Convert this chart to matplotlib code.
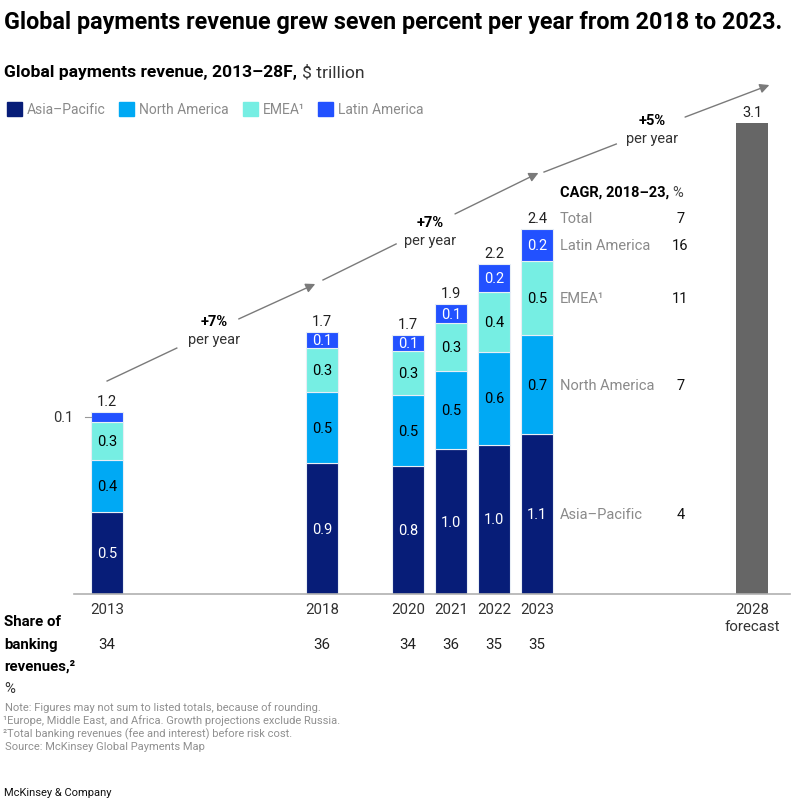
import matplotlib
matplotlib.use('Agg')
import matplotlib.pyplot as plt
from matplotlib.transforms import blended_transform_factory

plt.rcParams['font.family'] = ['Roboto', 'DejaVu Sans']

# data, $ trillion (segment heights, labels as printed)
years = [2013, 2018, 2020, 2021, 2022, 2023]
asia = [0.53, 0.85, 0.83, 0.94, 0.97, 1.04]
north_america = [0.34, 0.46, 0.46, 0.51, 0.60, 0.64]
emea = [0.25, 0.29, 0.29, 0.31, 0.39, 0.48]
latam = [0.06, 0.10, 0.10, 0.12, 0.18, 0.21]
asia_lbl = ['0.5', '0.9', '0.8', '1.0', '1.0', '1.1']
na_lbl = ['0.4', '0.5', '0.5', '0.5', '0.6', '0.7']
emea_lbl = ['0.3', '0.3', '0.3', '0.3', '0.4', '0.5']
latam_lbl = ['0.1', '0.1', '0.1', '0.1', '0.2', '0.2']
total_lbl = ['1.2', '1.7', '1.7', '1.9', '2.2', '2.4']
forecast_year = 2028
forecast_total = 3.06
forecast_lbl = '3.1'
share_banking = [34, 36, 34, 36, 35, 35]
cagr_names = ['Total', 'Latin America', 'EMEA\u00b9', 'North America', 'Asia\u2013Pacific']
cagr_values = [7, 16, 11, 7, 4]
growth_lbl = ['+7%', '+7%', '+5%']

C_ASIA = '#071d78'
C_NA = '#00a9f4'
C_EMEA = '#76eee3'
C_LATAM = '#2251ff'
C_FC = '#666666'
GREY = '#8a8a8a'

W, H = 810, 804
fig = plt.figure(figsize=(W / 100, H / 100), dpi=100)
renderer = fig.canvas.get_renderer()


def fx(px):
    return px / W


def fy(py):
    return 1 - py / H


def text_after(t, gap_px, s, **kw):
    # put a second text right after an existing one (mixed bold / normal)
    bb = t.get_window_extent(renderer)
    return fig.text((bb.x1 + gap_px) / W, (bb.y0 + bb.y1) / 2 / H, s, **kw)


# axes placed so that baseline sits at y=595px, 154 px per $ trillion
ax = fig.add_axes([fx(74), fy(595), fx(790) - fx(74), fy(60) - fy(595)])
ax.set_xlim(2012.23, 2028.88)
ax.set_ylim(0, (595 - 60) / 154)
for s in ['top', 'right', 'left']:
    ax.spines[s].set_visible(False)
ax.spines['bottom'].set_color('#b0b0b0')
ax.spines['bottom'].set_linewidth(1.2)
ax.set_yticks([])

bw = 0.75
series = [(asia, C_ASIA, asia_lbl, 'white'),
          (north_america, C_NA, na_lbl, 'black'),
          (emea, C_EMEA, emea_lbl, 'black'),
          (latam, C_LATAM, latam_lbl, 'white')]
bottoms = [0.0] * len(years)
for vals, col, lbls, tcol in series:
    ax.bar(years, vals, bw, bottom=bottoms, color=col, edgecolor='#e8eef5', linewidth=0.8)
    for i, (x, v) in enumerate(zip(years, vals)):
        if v > 0.09:
            ax.text(x, bottoms[i] + v / 2, lbls[i], ha='center', va='center',
                    color=tcol, fontsize=10.5)
    bottoms = [b + v for b, v in zip(bottoms, vals)]

# small latam slice of 2013 labelled outside
y13 = bottoms[0] - latam[0] / 2
ax.plot([years[0] - 0.51, years[0] - bw / 2], [y13, y13], color='#999999', lw=0.8, clip_on=False)
ax.text(years[0] - 0.78, y13, latam_lbl[0], ha='right', va='center', fontsize=10.5,
        color='#333333', clip_on=False)

for x, t, l in zip(years, bottoms, total_lbl):
    ax.annotate(l, (x, t), xytext=(0, 3), textcoords='offset points',
                ha='center', va='bottom', fontsize=10.5, color='#222222')

ax.bar([forecast_year], [forecast_total], bw, color=C_FC)
ax.annotate(forecast_lbl, (forecast_year, forecast_total), xytext=(0, 3),
            textcoords='offset points', ha='center', va='bottom', fontsize=10.5, color='#222222')

ax.set_xticks(years + [forecast_year])
ax.set_xticklabels([str(y) for y in years] + ['2028\nforecast'], fontsize=10.8,
                   color='#333333', linespacing=1.25)
ax.tick_params(axis='x', length=0, pad=6)

# growth arrows (layout positions in data units)
arrow_kw = dict(arrowstyle='-|>', color='#7a7a7a', lw=1.0, mutation_scale=14, shrinkA=0, shrinkB=0)
line_kw = dict(color='#7a7a7a', lw=1.0, clip_on=False)
segs = [((2013.0, 1.383), (2014.62, 1.597), (2016.06, 1.786), (2017.84, 2.013), (2015.49, 1.773, 1.656)),
        ((2018.02, 2.039), (2019.72, 2.273), (2021.09, 2.468), (2023.03, 2.734), (2020.51, 2.416, 2.299)),
        ((2023.16, 2.740), (2024.84, 2.922), (2026.44, 3.097), (2028.40, 3.305), (2025.67, 3.078, 2.961))]
for (p0, p1, p2, p3, tp), g in zip(segs, growth_lbl):
    ax.plot([p0[0], p1[0]], [p0[1], p1[1]], **line_kw)
    ax.annotate('', xy=p3, xytext=p2, arrowprops=arrow_kw, annotation_clip=False)
    ax.text(tp[0], tp[1], g, ha='center', va='center', fontsize=10.5, fontweight='bold')
    ax.text(tp[0], tp[2], 'per year', ha='center', va='center', fontsize=10.5, color='#333333')

# CAGR block next to the 2023 bar
last = len(years) - 1
row_y = [bottoms[last] + 0.07]
row_y.append(bottoms[last] - latam[last] / 2)
row_y.append(asia[last] + north_america[last] + emea[last] / 2)
row_y.append(asia[last] + north_america[last] / 2)
row_y.append(asia[last] / 2)
cagr_t = ax.text(2023.53, (595 - 193) / 154, 'CAGR, 2018\u201323,', ha='left', va='center',
                 fontsize=10.5, fontweight='bold')
text_after(cagr_t, 3, '%', fontsize=10.5, va='center', color='#444444')
for name, val, y in zip(cagr_names, cagr_values, row_y):
    ax.text(2023.53, y, name, ha='left', va='center', fontsize=10.5, color=GREY)
    ax.text(2026.33, y, str(val), ha='center', va='center', fontsize=10.5, color='#111111')

# share of banking revenues row
tr = blended_transform_factory(ax.transData, fig.transFigure)
for x, s in zip(years, share_banking):
    ax.text(x, fy(645), str(s), transform=tr, ha='center', va='center', fontsize=10.8, color='#222222')
fig.text(fx(4), fy(622), 'Share of', fontsize=10.8, fontweight='bold', va='center')
fig.text(fx(4), fy(645), 'banking', fontsize=10.8, fontweight='bold', va='center')
fig.text(fx(4), fy(667), 'revenues,\u00b2', fontsize=10.8, fontweight='bold', va='center')
fig.text(fx(4), fy(689), '%', fontsize=10.8, va='center', color='#333333')

# titles and legend
fig.text(fx(4), fy(22), 'Global payments revenue grew seven percent per year from 2018 to 2023.',
         fontsize=16.8, fontweight='bold', va='center')
sub = fig.text(fx(4), fy(73), 'Global payments revenue, 2013\u201328F,', fontsize=12.6,
               fontweight='bold', va='center')
text_after(sub, 5, '$ trillion', fontsize=12.6, va='center', color='#333333')

legend_items = [('Asia\u2013Pacific', C_ASIA, 7), ('North America', C_NA, 119),
                ('EMEA\u00b9', C_EMEA, 243), ('Latin America', C_LATAM, 318)]
for name, col, x0 in legend_items:
    fig.patches.append(plt.Rectangle((fx(x0), fy(117)), fx(15), fy(103) - fy(117),
                                     transform=fig.transFigure, color=col))
    fig.text(fx(x0 + 20), fy(110), name, fontsize=10, va='center', color=GREY)

notes = ['Note: Figures may not sum to listed totals, because of rounding.',
         '\u00b9Europe, Middle East, and Africa. Growth projections exclude Russia.',
         '\u00b2Total banking revenues (fee and interest) before risk cost.',
         'Source: McKinsey Global Payments Map']
for i, n in enumerate(notes):
    xo = 5 if n[0] not in '\u00b9\u00b2' else 3
    fig.text(fx(xo), fy(708 + 13 * i), n, fontsize=8, va='center', color='#909090')
fig.text(fx(4), fy(793), 'McKinsey & Company', fontsize=8, va='center', color='#111111')

fig.savefig('out.png', dpi=100)
